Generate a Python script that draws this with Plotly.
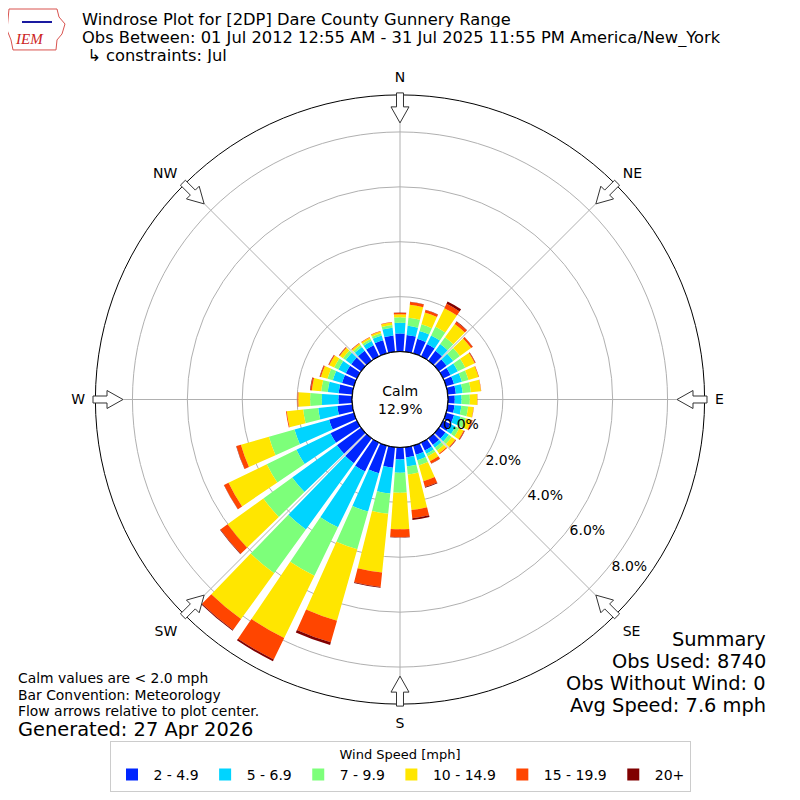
'''
Windrose for [2DP] Dare County Gunnery Range (July), rebuilt with plotly barpolar
'''
import math
import plotly.graph_objects as go

# wind direction bins (deg, meteorological convention)
directions = list(range(0, 360, 10))

# frequency (%) of each speed bin per direction
spd_2_5 = [0.66, 0.62, 0.55, 0.50, 0.45, 0.35, 0.30, 0.30, 0.30, 0.25, 0.25, 0.30,
           0.30, 0.30, 0.30, 0.32, 0.35, 0.38, 0.44, 0.75, 1.05, 1.17, 1.12, 1.09,
           1.07, 0.94, 0.55, 0.50, 0.50, 0.45, 0.45, 0.45, 0.45, 0.45, 0.50, 0.60]
spd_5_7 = [0.39, 0.33, 0.30, 0.35, 0.30, 0.30, 0.30, 0.30, 0.25, 0.25, 0.25, 0.25,
           0.20, 0.15, 0.12, 0.13, 0.20, 0.32, 0.48, 0.95, 1.45, 2.26, 2.98, 2.01,
           1.38, 1.31, 0.70, 0.60, 0.40, 0.35, 0.30, 0.25, 0.17, 0.17, 0.18, 0.28]
spd_7_10 = [0.20, 0.30, 0.25, 0.35, 0.30, 0.30, 0.30, 0.25, 0.30, 0.30, 0.25, 0.20,
            0.15, 0.13, 0.13, 0.10, 0.20, 0.30, 0.73, 0.74, 1.43, 1.96, 1.97, 1.30,
            1.20, 0.97, 0.55, 0.43, 0.24, 0.20, 0.17, 0.12, 0.08, 0.08, 0.08, 0.10]
spd_10_15 = [0.11, 0.47, 0.45, 0.75, 0.60, 0.50, 0.38, 0.38, 0.37, 0.27, 0.20, 0.20,
             0.18, 0.16, 0.13, 0.20, 0.60, 1.30, 1.33, 2.15, 2.70, 2.52, 2.06, 1.61,
             1.55, 1.06, 0.60, 0.43, 0.34, 0.25, 0.20, 0.14, 0.07, 0.06, 0.07, 0.09]
spd_15_20 = [0.05, 0.10, 0.09, 0.18, 0.10, 0.07, 0.03, 0.02, 0.01, 0.01, 0.01, 0.04,
             0.04, 0.03, 0.04, 0.10, 0.22, 0.30, 0.29, 0.53, 0.82, 0.87, 0.49, 0.32,
             0.18, 0.17, 0.03, 0.03, 0.05, 0.04, 0.03, 0.03, 0.02, 0.02, 0.02, 0.02]
spd_20p = [0.01, 0.01, 0.01, 0.09, 0.02, 0.01, 0.01, 0.00, 0.00, 0.00, 0.00, 0.01,
           0.01, 0.01, 0.00, 0.01, 0.03, 0.07, 0.01, 0.03, 0.10, 0.07, 0.03, 0.02,
           0.01, 0.01, 0.00, 0.00, 0.02, 0.01, 0.01, 0.01, 0.01, 0.00, 0.00, 0.00]

bin_names = ['2 - 4.9', '5 - 6.9', '7 - 9.9', '10 - 14.9', '15 - 19.9', '20+']
bin_colors = ['#0026ff', '#00d4ff', '#7dff7a', '#ffe600', '#ff4500', '#800000']
calm_pct = 12.9
radial_ticks = [0, 2, 4, 6, 8]
compass = ['N', 'NE', 'E', 'SE', 'S', 'SW', 'W', 'NW']

# the page body keeps its default 8px margin, so draw on 784px and shift by 8
PAGE = 800
OFF = 8
W = H = PAGE - 2 * OFF
CX, CY, R_OUT, R_HOLE = 400, 400, 305, 48
R_MAX = 9.35
FONT = 'DejaVu Sans'

fig = go.Figure()
for name, vals, col in zip(bin_names,
                           [spd_2_5, spd_5_7, spd_7_10, spd_10_15, spd_15_20, spd_20p],
                           bin_colors):
    fig.add_trace(go.Barpolar(r=vals, theta=directions, name=name, width=8.2,
                              marker=dict(color=col, line=dict(width=0))))

# black outline of the calm circle
circ = [i * 2 for i in range(181)]
fig.add_trace(go.Scatterpolar(r=[0] * len(circ), theta=circ, mode='lines',
                              line=dict(color='black', width=1.2),
                              showlegend=False, hoverinfo='skip'))


def px2paper(x, y):
    '''page pixel (reference picture) -> paper coords'''
    return (x - OFF) / W, 1 - (y - OFF) / H


# hollow flow arrows on the outer ring
shapes = []
for k in range(8):
    a = math.radians(k * 45)
    ux, uy = math.sin(a), -math.cos(a)
    qx, qy = math.cos(a), math.sin(a)

    def pt(r, w):
        return px2paper(CX + r * ux + w * qx, CY + r * uy + w * qy)
    pts = [pt(277, 0), pt(293, 9), pt(293, 3.5), pt(307, 3.5),
           pt(307, -3.5), pt(293, -3.5), pt(293, -9)]
    path = 'M ' + ' L '.join('%.5f %.5f' % p for p in pts) + ' Z'
    shapes.append(dict(type='path', path=path, xref='paper', yref='paper',
                       fillcolor='white', line=dict(color='#333333', width=1)))

# IEM logo outline, rough
logo = [(9, 9), (57, 9), (59, 17), (65, 24), (62, 34), (57, 40), (56, 50),
        (13, 50), (11, 40), (7, 30), (9, 9)]
shapes.append(dict(type='path', xref='paper', yref='paper',
                   path='M ' + ' L '.join('%.5f %.5f' % px2paper(*p) for p in logo) + ' Z',
                   line=dict(color='#d9534f', width=1)))
shapes.append(dict(type='line', xref='paper', yref='paper',
                   x0=px2paper(22, 22)[0], y0=px2paper(22, 22)[1],
                   x1=px2paper(52, 22)[0], y1=px2paper(52, 22)[1],
                   line=dict(color='#1a1aa0', width=2)))


def note(text, x, y, size, xanchor='left', color='black', family=FONT, **kw):
    fx, fy = px2paper(x, y)
    fig.add_annotation(text=text, x=fx, y=fy, xref='paper', yref='paper',
                       xanchor=xanchor, yanchor='middle', showarrow=False,
                       font=dict(size=size, color=color, family=family), **kw)


note('Windrose Plot for [2DP] Dare County Gunnery Range', 80, 19.5, 16.3, height=16)
note('Obs Between: 01 Jul 2012 12:55 AM - 31 Jul 2025 11:55 PM America/New_York',
     80, 37.5, 16.3, height=19)
note(' ↳ constraints: Jul', 80, 55.5, 16.3, height=16)
note('<i>IEM</i>', 29, 39, 15, xanchor='center', color='#cc2222', family='Liberation Serif')
note('Calm values are < 2.0 mph', 16, 679, 13.9, height=16)
note('Bar Convention: Meteorology', 16, 696, 13.9, height=16)
note('Flow arrows relative to plot center.', 16, 712, 13.9, height=16)
note('Generated: 27 Apr 2026', 16, 730, 19.4, height=20)
note('Summary', 768, 640, 19.4, xanchor='right', height=21)
note('Obs Used: 8740', 768, 662, 19.4, xanchor='right', height=21)
note('Obs Without Wind: 0', 768, 684, 19.4, xanchor='right', height=21)
note('Avg Speed: 7.6 mph', 768, 706, 19.4, xanchor='right', height=21)
note('Calm<br>%.1f%%' % calm_pct, 400, 400, 14, xanchor='center', align='center')

x0, y1 = px2paper(CX - R_OUT, CY - R_OUT)
x1, y0 = px2paper(CX + R_OUT, CY + R_OUT)
fig.update_layout(
    width=W, height=H,
    margin=dict(l=0, r=0, t=0, b=0),
    paper_bgcolor='white',
    font=dict(family=FONT, size=14, color='black'),
    shapes=shapes,
    polar=dict(
        domain=dict(x=[x0, x1], y=[y0, y1]),
        hole=R_HOLE / R_OUT,
        bgcolor='white',
        barmode='stack',
        angularaxis=dict(direction='clockwise', rotation=90,
                         tickvals=[i * 45 for i in range(8)], ticktext=compass,
                         showline=True, linecolor='black', linewidth=1,
                         gridcolor='#b0b0b0', gridwidth=1,
                         ticks='outside', ticklen=7, tickcolor='rgba(0,0,0,0)',
                         tickfont=dict(size=14)),
        radialaxis=dict(range=[0, R_MAX], tickvals=radial_ticks,
                        ticktext=['%.1f%%' % v for v in radial_ticks],
                        angle=-40, tickangle=-40, side='counterclockwise',
                        showline=False, ticks='',
                        gridcolor='#b0b0b0', gridwidth=1,
                        tickfont=dict(size=14)),
    ),
    legend=dict(orientation='h', x=0.5, xanchor='center',
                y=px2paper(0, 742)[1], yanchor='top', itemwidth=33,
                bordercolor='#cccccc', borderwidth=1, bgcolor='white',
                font=dict(size=14),
                title=dict(text='Wind Speed [mph]', side='top center', font=dict(size=13))),
)

fig.write_html('out.html')
